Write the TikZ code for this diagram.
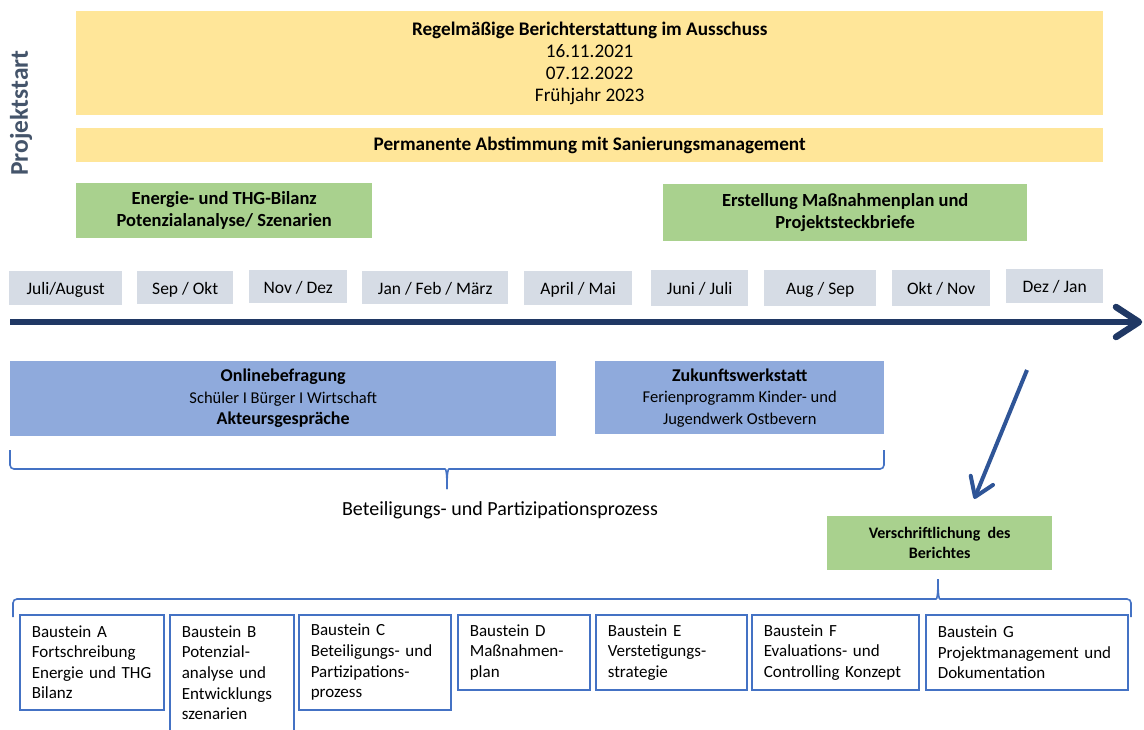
\documentclass[tikz,border=0pt]{standalone}
\usepackage{fontspec}
\setmainfont{Carlito}
\definecolor{cyel}{HTML}{FFE699}
\definecolor{cgrn}{HTML}{A9D18E}
\definecolor{cmon}{HTML}{D6DCE5}
\definecolor{cblu}{HTML}{8FAADC}
\definecolor{cnavy}{HTML}{203864}
\definecolor{carr}{HTML}{2F5597}
\definecolor{cbst}{HTML}{4472C4}
\definecolor{cps}{HTML}{44546A}
\newcommand\fsz[2]{\fontsize{#1}{#2}\selectfont}
\tikzset{
  box/.style={anchor=north west, inner sep=0pt, align=center},
  yelbox/.style={box, fill=cyel},
  grnbox/.style={box, fill=cgrn, font=\bfseries\fsz{18.5}{22}},
  monbox/.style={box, fill=cmon, font=\fsz{17.5}{21}, text height=15pt, text depth=2pt},
  blubox/.style={box, fill=cblu, font=\fsz{18}{21.5}},
  bstbox/.style={anchor=north west, draw=cbst, line width=1.6pt, fill=white,
    align=left, inner xsep=12pt, inner ysep=0pt, font=\fsz{17}{20.6}},
  bracel/.style={draw=cbst, line width=1.6pt, rounded corners=4pt},
}
\begin{document}
\begin{tikzpicture}[x=1pt,y=-1pt]
\useasboundingbox (0,0) rectangle (1144,729);

% Projektstart
\node[rotate=90, font=\bfseries\fsz{25.5}{27}, text=cps] (ps) at (21,113) {Projektstart};

% yellow boxes
\node[yelbox, minimum width=1027pt, minimum height=104pt, font=\fsz{19.2}{22}] (y1) at (76,11)
  {\textbf{Regelmäßige Berichterstattung im Ausschuss}\\16.11.2021\\07.12.2022\\Frühjahr 2023};
\node[yelbox, minimum width=1027pt, minimum height=34pt, font=\bfseries\fsz{19.2}{22}] (y2) at (76,128)
  {Permanente Abstimmung mit Sanierungsmanagement};

% green boxes
\node[grnbox, minimum width=296pt, minimum height=55pt] (g1) at (76,183)
  {Energie- und THG-Bilanz\\Potenzialanalyse/ Szenarien};
\node[grnbox, minimum width=364pt, minimum height=57pt] (g2) at (663,184)
  {Erstellung Maßnahmenplan und\\Projektsteckbriefe};

% months
\node[monbox, minimum width=113pt, minimum height=34pt] (m1) at (9,271) {Juli/August};
\node[monbox, minimum width=96pt, minimum height=33pt] (m2) at (137,271) {Sep / Okt};
\node[monbox, minimum width=98pt, minimum height=33pt] (m3) at (249,270) {Nov / Dez};
\node[monbox, minimum width=146pt, minimum height=33pt] (m4) at (362,271) {Jan / Feb / März};
\node[monbox, minimum width=108pt, minimum height=34pt] (m5) at (524,271) {April / Mai};
\node[monbox, minimum width=97pt, minimum height=36pt] (m6) at (651,270) {Juni / Juli};
\node[monbox, minimum width=112pt, minimum height=36pt] (m7) at (764,270) {Aug / Sep};
\node[monbox, minimum width=98pt, minimum height=36pt] (m8) at (892,270) {Okt / Nov};
\node[monbox, minimum width=97pt, minimum height=34pt] (m9) at (1006,269) {Dez / Jan};

% time axis
\coordinate (axS) at (10,322);
\coordinate (axE) at (1139,322);
\draw[cnavy, line width=6.5pt] (axS) -- (axE);
\draw[cnavy, line width=6.5pt, line cap=round, line join=round] (axE) ++(-23,-15) -- (axE) -- ++(-23,15);

% blue boxes
\node[blubox, minimum width=546pt, minimum height=75pt] (b1) at (10,361)
  {\textbf{Onlinebefragung}\\{\fsz{16.5}{21.5}Schüler I Bürger I Wirtschaft}\\\textbf{Akteursgespräche}};
\node[blubox, minimum width=289pt, minimum height=73pt] (b2) at (595,361)
  {\textbf{Zukunftswerkstatt}\\{\fsz{16.5}{20.5}Ferienprogramm Kinder- und}\\{\fsz{16.5}{20.5}Jugendwerk Ostbevern}};

% upper brace
\draw[bracel] (10,450) -- (10,469) -- (441,469) .. controls (446,469) and (447,472) .. (447,489);
\draw[bracel] (884,450) -- (884,469) -- (453,469) .. controls (448,469) and (447,472) .. (447,489);
\node[font=\fsz{20}{24}] (lbl) at (500,510) {Beteiligungs- und Partizipationsprozess};

% arrow to report
\coordinate (arS) at (1027,370);
\coordinate (arE) at (975,497);
\draw[carr, line width=4pt] (arS) -- (arE);
\draw[carr, line width=4pt, line cap=round, line join=round] (arE) ++(18,-12.1) -- (arE) -- ++(-4.3,-21.2);

\node[box, fill=cgrn, minimum width=225pt, minimum height=54pt, font=\bfseries\fsz{16}{20}] (vb) at (827,516)
  {Verschriftlichung\ \ des\\Berichtes};

% lower brace
\draw[bracel] (13,617) -- (13,599) -- (932,599) .. controls (937,599) and (938,596) .. (938,579);
\draw[bracel] (1131,617) -- (1131,599) -- (944,599) .. controls (939,599) and (938,596) .. (938,579);

% Bausteine
\node[bstbox, text width=120pt, minimum height=95pt] (bA) at (19,614)
  {Baustein~A\\Fortschreibung\\Energie~und~THG\\Bilanz};
\node[bstbox, text width=100pt, minimum height=116pt] (bB) at (169,614)
  {Baustein~B\\Potenzial-\\analyse~und\\Entwicklungs\\szenarien};
\node[bstbox, text width=128pt, minimum height=95pt] (bC) at (298,614)
  {Baustein~C\\Beteiligungs-~und\\Partizipations-\\prozess};
\node[bstbox, text width=108pt, minimum height=75pt] (bD) at (457,614)
  {Baustein~D\\Maßnahmen-\\plan};
\node[bstbox, text width=127pt, minimum height=75pt] (bE) at (595,614)
  {Baustein~E\\Verstetigungs-\\strategie};
\node[bstbox, text width=143pt, minimum height=75pt] (bF) at (751,614)
  {Baustein~F\\Evaluations-~und\\Controlling~Konzept};
\node[bstbox, text width=178pt, minimum height=75pt] (bG) at (925,614)
  {Baustein~G\\Projektmanagement~und\\Dokumentation};
\end{tikzpicture}
\end{document}
